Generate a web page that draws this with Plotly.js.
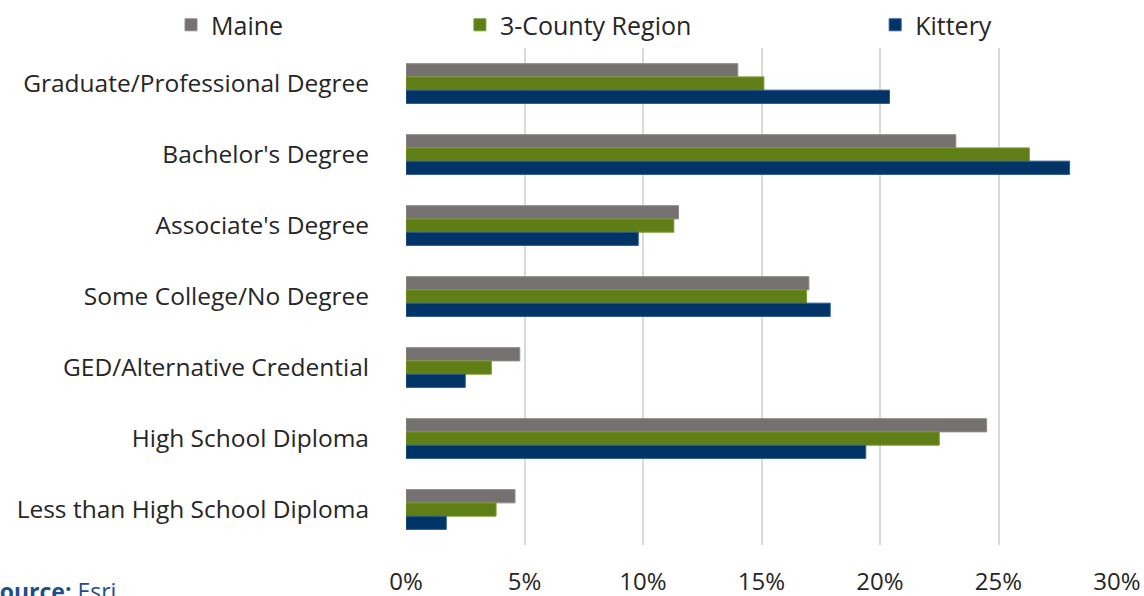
<!DOCTYPE html>
<html>
<head>
<meta charset="utf-8">
<script src="https://cdn.plot.ly/plotly-3.0.1.min.js"></script>
<style>
html,body{margin:0;padding:0;background:#fff;overflow:hidden;}
#chart{width:1144px;height:596px;}
</style>
</head>
<body>
<div id="chart"></div>
<script>
const categories = [
  "Graduate/Professional Degree",
  "Bachelor's Degree",
  "Associate's Degree",
  "Some College/No Degree",
  "GED/Alternative Credential",
  "High School Diploma",
  "Less than High School Diploma"
];
const seriesNames = ["Maine", "3-County Region", "Kittery"];
const maine = [0.140, 0.232, 0.115, 0.170, 0.048, 0.245, 0.046];
const region = [0.151, 0.263, 0.113, 0.169, 0.036, 0.225, 0.038];
const kittery = [0.204, 0.280, 0.098, 0.179, 0.025, 0.194, 0.017];
const xTicks = [0, 0.05, 0.10, 0.15, 0.20, 0.25, 0.30];
const xTickLabels = ["0%", "5%", "10%", "15%", "20%", "25%", "30%"];

const colors = ["#767171", "#5f7f16", "#003366"];
const borders = ["#8f8b8b", "#7a9a2e", "#2f5a8f"];
const values = [maine, region, kittery];
const legendIds = ["legend", "legend2", "legend3"];

const font = "'Open Sans', 'Noto Sans', sans-serif";

const traces = values.map((v, i) => ({
  type: "bar",
  orientation: "h",
  name: seriesNames[i],
  y: categories,
  x: v,
  marker: {color: colors[i], line: {color: borders[i], width: 1}},
  legend: legendIds[i],
  hoverinfo: "skip"
}));

const legendBase = {
  orientation: "h",
  xref: "container",
  yref: "container",
  y: 0.958,
  yanchor: "middle",
  xanchor: "left",
  font: {family: font, size: 25, color: "#262626"},
  bgcolor: "rgba(0,0,0,0)",
  itemwidth: 30
};

const layout = {
  width: 1144,
  height: 596,
  margin: {l: 406, r: 27, t: 45, b: 51},
  paper_bgcolor: "#ffffff",
  plot_bgcolor: "#ffffff",
  barmode: "group",
  bargap: 0.44,
  bargroupgap: 0,
  font: {family: font, color: "#262626"},
  xaxis: {
    range: [0, 0.30],
    tickvals: xTicks,
    ticktext: xTickLabels,
    showgrid: true,
    gridcolor: "#d9d9d9",
    gridwidth: 2,
    zeroline: false,
    showline: false,
    ticks: "",
    ticklabelstandoff: 20,
    tickfont: {family: font, size: 24, color: "#262626"},
    fixedrange: true
  },
  yaxis: {
    autorange: "reversed",
    type: "category",
    showgrid: false,
    zeroline: false,
    showline: false,
    ticks: "",
    ticklabelstandoff: 36,
    tickfont: {family: font, size: 24.5, color: "#262626"},
    fixedrange: true
  },
  showlegend: true,
  legend: Object.assign({}, legendBase, {x: 0.1495}),
  legend2: Object.assign({}, legendBase, {x: 0.402}),
  legend3: Object.assign({}, legendBase, {x: 0.765}),
  annotations: [{
    xref: "paper", yref: "paper",
    x: -0.592, y: -0.092,
    xanchor: "left", yanchor: "middle",
    showarrow: false,
    text: "<b>Source:</b> Esri",
    font: {family: font, size: 23, color: "#1f4e8c"}
  }]
};

Plotly.newPlot("chart", traces, layout, {displayModeBar: false, staticPlot: true});
</script>
</body>
</html>
